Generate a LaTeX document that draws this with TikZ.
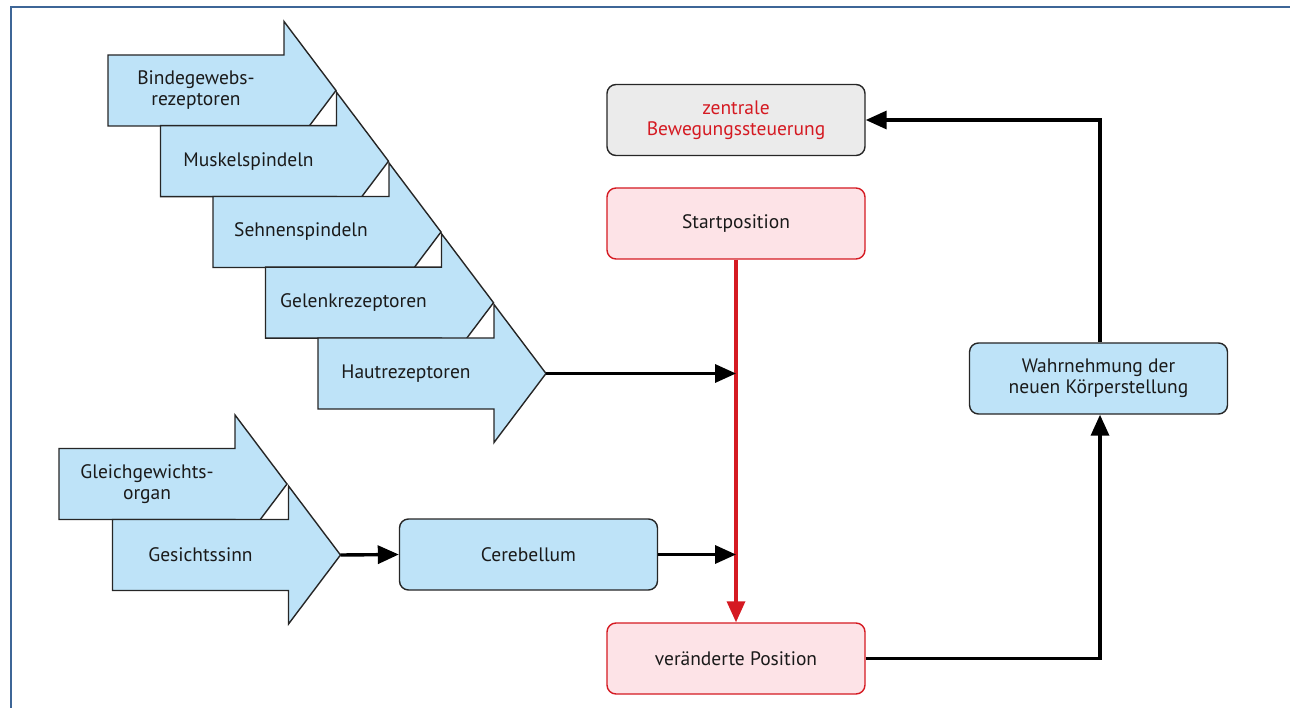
\documentclass[tikz,border=0pt]{standalone}
\usepackage{fontspec}
\setmainfont{PT Sans}
\usetikzlibrary{arrows.meta}
\definecolor{arrowblue}{HTML}{BEE3F8}
\definecolor{boxgray}{HTML}{EBEBEB}
\definecolor{boxpink}{HTML}{FDE3E7}
\definecolor{redline}{HTML}{D51A22}
\definecolor{framebl}{HTML}{3E6697}
\definecolor{txt}{HTML}{1A1A1A}
\tikzset{
  arrowshape/.style={fill=arrowblue, draw=black!85, line width=1.4pt, line join=miter},
  arrowtext/.style={font=\fontsize{19.5}{21}\selectfont, text=txt, align=center},
  rbox/.style={rounded corners=9pt, line width=1.4pt, minimum width=258pt, minimum height=71pt,
    font=\fontsize{19.5}{21}\selectfont, align=center, inner sep=0pt},
  bluebox/.style={rbox, fill=arrowblue, draw=black!85, text=txt},
  graybox/.style={rbox, fill=boxgray, draw=black!85, text=redline},
  pinkbox/.style={rbox, fill=boxpink, draw=redline, text=txt},
  conn/.style={line width=3.4pt, draw=black, -{Triangle[length=21pt,width=18pt]}},
  redconn/.style={line width=3.4pt, draw=redline, -{Triangle[length=21pt,width=18pt]}},
}
\newcommand\blockarr[4]{%
  \draw[arrowshape] (#2,#3-35.5) -- (#2+176,#3-35.5) -- (#2+176,#3-69) -- (#2+228,#3)
    -- (#2+176,#3+69) -- (#2+176,#3+35.5) -- (#2,#3+35.5) -- cycle;
  \node[arrowtext] (#1) at (#2+88,#3) {#4};
  \coordinate (#1-tip) at (#2+228,#3);
}
\begin{document}
\begin{tikzpicture}[x=1pt,y=-1pt]
\useasboundingbox (0,0) rectangle (1290,708);
\draw[framebl, line width=2pt] (11,710) -- (11,7) -- (1292,7);
% sensor arrows
\blockarr{bind}{108}{90.5}{Bindegewebs-\\rezeptoren}
\blockarr{musk}{160.5}{161.2}{Muskelspindeln}
\blockarr{sehn}{213}{232}{Sehnenspindeln}
\blockarr{gel}{265.5}{302.7}{Gelenkrezeptoren}
\blockarr{haut}{318}{373.5}{Hautrezeptoren}
\blockarr{gleich}{59}{484}{Gleichgewichts-\\organ}
\blockarr{gesicht}{112.5}{555}{Gesichtssinn}
% boxes
\node[graybox] (zentral) at (736,120) {zentrale\\Bewegungssteuerung};
\node[pinkbox] (start) at (736,223.5) {Startposition};
\node[pinkbox] (veraend) at (736,658.5) {veränderte Position};
\node[bluebox] (cereb) at (528.5,554.5) {Cerebellum};
\node[bluebox] (wahr) at (1098.5,378.5) {Wahrnehmung der\\neuen Körperstellung};
% coordinates
\coordinate (j1) at (736,373.5);
\coordinate (j2) at (736,554.5);
\coordinate (c1) at (1100,658.5);
\coordinate (c2) at (1100,120);
% connectors
\draw[redconn] (start.south) -- (veraend.north);
\draw[conn] (haut-tip) -- (j1);
\draw[conn] (gesicht-tip) -- (cereb.west);
\draw[conn] (cereb.east) -- (j2);
\draw[conn] (veraend.east) -- (c1) -- (wahr.south -| c1);
\draw[conn] (wahr.north -| c1) -- (c2) -- (zentral.east);
\end{tikzpicture}
\end{document}
